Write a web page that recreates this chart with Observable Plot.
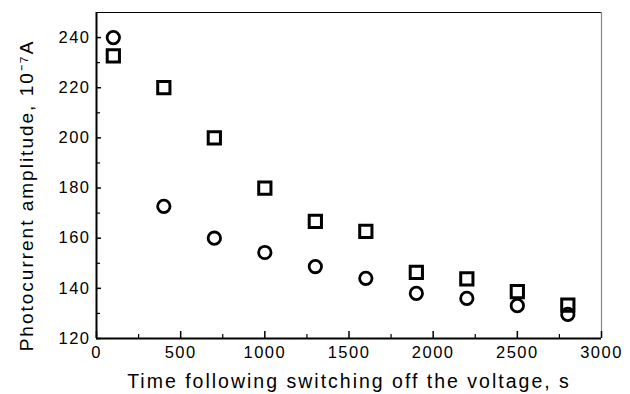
<!DOCTYPE html>
<html>
<head>
<meta charset="utf-8">
<script src="https://cdn.jsdelivr.net/npm/d3@7"></script>
<script src="https://cdn.jsdelivr.net/npm/@observablehq/plot@0.6"></script>
<style>
  html, body { margin: 0; padding: 0; background: #fff; }
  svg { display: block; }
  .ttl text { letter-spacing: 2px; }
  .tk text { letter-spacing: 1.5px; }
</style>
</head>
<body>
<div id="chart"></div>
<script>
const times = [100, 400, 700, 1000, 1300, 1600, 1900, 2200, 2500, 2800];
const squares = [232.7, 220, 200, 180, 166.7, 162.7, 146.4, 143.8, 138.7, 133.3];
const circles = [240, 172.7, 160, 154.3, 148.7, 144, 138, 136, 133.1, 129.6];
const xMajor = [0, 500, 1000, 1500, 2000, 2500, 3000];
const xMinor = [250, 750, 1250, 1750, 2250, 2750];
const yMajor = [120, 140, 160, 180, 200, 220, 240];
const yMinor = [130, 150, 170, 190, 210, 230];
const xTitle = "Time following switching off the voltage, s";
const yTitle = "Photocurrent amplitude, 10\u207B\u2077A";

const sq = times.map((t, i) => ({t, v: squares[i]}));
const ci = times.map((t, i) => ({t, v: circles[i]}));

const font = "'Liberation Sans', Arial, sans-serif";

const chart = Plot.plot({
  width: 630,
  height: 394,
  marginLeft: 96,
  marginRight: 29,
  marginTop: 12,
  marginBottom: 56,
  style: {fontFamily: font, background: "#fff", color: "#000"},
  x: {domain: [0, 3000]},
  y: {domain: [120, 250]},
  marks: [
    Plot.ruleY([250], {stroke: "#000", strokeWidth: 1}),
    Plot.ruleX([3000], {stroke: "#888", strokeWidth: 1.2}),
    Plot.axisX({ticks: xMajor, tickSize: -7, tickPadding: 15, tickFormat: d => String(d), fontSize: 16.5, label: null, strokeWidth: 1.5, className: "tk"}),
    Plot.axisX({ticks: xMinor, tickSize: -4, tickFormat: () => "", label: null, strokeWidth: 1.2}),
    Plot.axisY({ticks: yMajor, tickSize: -5, tickPadding: 11, tickFormat: d => String(d), fontSize: 16.5, label: null, strokeWidth: 1.5, className: "tk"}),
    Plot.axisY({ticks: yMinor, tickSize: -4, tickFormat: () => "", label: null, strokeWidth: 1.2}),
    Plot.ruleX([0], {stroke: "#000", strokeWidth: 2}),
    Plot.ruleY([120], {stroke: "#000", strokeWidth: 2}),
    Plot.dot(sq, {x: "t", y: "v", symbol: "square", r: 6.9, stroke: "#000", strokeWidth: 3, fill: "none"}),
    Plot.dot(ci, {x: "t", y: "v", symbol: "circle", r: 6.2, stroke: "#000", strokeWidth: 2.8, fill: "none"}),
    Plot.text([xTitle], {frameAnchor: "bottom", dy: 43, textAnchor: "middle", lineAnchor: "middle", fontSize: 19.5, fill: "#000", className: "ttl"}),
    Plot.text([yTitle], {frameAnchor: "left", dx: -70, dy: 20, rotate: -90, textAnchor: "middle", lineAnchor: "middle", fontSize: 19, fill: "#000", className: "ttl"})
  ]
});
document.getElementById("chart").appendChild(chart);
</script>
</body>
</html>
